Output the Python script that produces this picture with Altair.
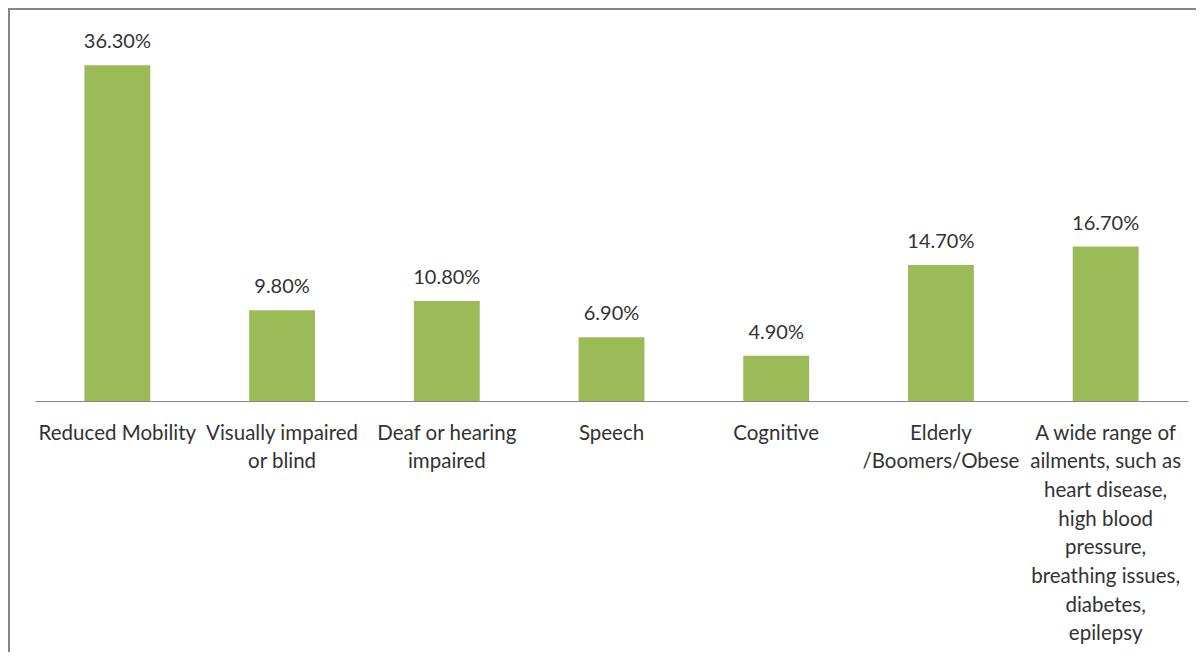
import altair as alt
import pandas as pd

categories = [
    "Reduced Mobility",
    "Visually impaired\nor blind",
    "Deaf or hearing\nimpaired",
    "Speech",
    "Cognitive",
    "Elderly\n/Boomers/Obese",
    "A wide range of\nailments, such as\nheart disease,\nhigh blood\npressure,\nbreathing issues,\ndiabetes,\nepilepsy",
]
values = [36.3, 9.8, 10.8, 6.9, 4.9, 14.7, 16.7]

df = pd.DataFrame({"category": categories, "value": values})

FONT = "Lato"
TXT = "#333333"
GREEN = "#9BBB59"
FRAME = "#868686"

x_enc = alt.X(
    "category:N",
    sort=categories,
    scale=alt.Scale(paddingInner=0.6, paddingOuter=0.3),
    axis=alt.Axis(
        title=None,
        labelAngle=0,
        ticks=False,
        domainColor=FRAME,
        domainWidth=1,
        labelFont=FONT,
        labelFontSize=20.5,
        labelColor=TXT,
        labelPadding=32,
        labelLineHeight=28.7,
        labelOverlap=False,
        labelBound=False,
        labelExpr="split(datum.label, '\\n')",
        labelBaseline="middle",
    ),
)
y_enc = alt.Y("value:Q", scale=alt.Scale(domain=[0, 40]), axis=None)

bars = alt.Chart(df).mark_bar(color=GREEN).encode(x=x_enc, y=y_enc)

labels = (
    alt.Chart(df)
    .transform_calculate(lbl="format(datum.value, '.2f') + '%'")
    .mark_text(font=FONT, fontSize=20, color=TXT, baseline="middle", dy=-23)
    .encode(x=alt.X("category:N", sort=categories), y="value:Q", text="lbl:N")
)

frame_src = alt.Data(values=[{"k": 1}])
left_line = alt.Chart(frame_src).mark_rule(color=FRAME, strokeWidth=2).encode(
    x=alt.value(-26), y=alt.value(-22), y2=alt.value(640)
)
top_line = alt.Chart(frame_src).mark_rule(color=FRAME, strokeWidth=2).encode(
    x=alt.value(-27), x2=alt.value(1170), y=alt.value(-22)
)

chart = (
    alt.layer(bars, labels, left_line, top_line)
    .properties(
        width=1153,
        height=370,
        background="white",
        autosize=alt.AutoSizeParams(type="none"),
        padding={"left": 27, "top": 23, "right": 8, "bottom": 251},
    )
    .configure_view(strokeWidth=0, stroke="transparent")
)

chart.save("out.html", embed_options={"renderer": "svg", "actions": False})
